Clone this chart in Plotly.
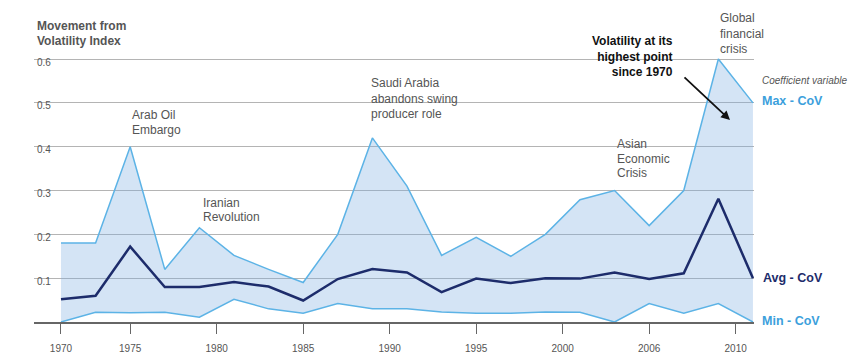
import plotly.graph_objects as go

# ---------------- data ----------------
years = [1970, 1972, 1974, 1976, 1978, 1980, 1982, 1984, 1986, 1988, 1990,
         1992, 1994, 1996, 1998, 2000, 2002, 2004, 2006, 2008, 2010]
max_cov = [0.18, 0.18, 0.40, 0.12, 0.215, 0.152, 0.12, 0.09, 0.20, 0.42, 0.31,
           0.152, 0.193, 0.15, 0.20, 0.279, 0.30, 0.22, 0.30, 0.60, 0.50]
avg_cov = [0.052, 0.06, 0.172, 0.08, 0.08, 0.091, 0.081, 0.049, 0.098, 0.121, 0.113,
           0.068, 0.099, 0.089, 0.10, 0.099, 0.113, 0.098, 0.111, 0.281, 0.10]
min_cov = [0.0, 0.022, 0.021, 0.022, 0.011, 0.052, 0.03, 0.02, 0.042, 0.03, 0.03,
           0.023, 0.02, 0.02, 0.023, 0.022, 0.0, 0.042, 0.02, 0.042, 0.0]

x_tickvals = [1970, 1974, 1979, 1984, 1989, 1994, 1999, 2004, 2009]
x_ticktext = ["1970", "1975", "1980", "1985", "1990", "1995", "2000", "2006", "2010"]
y_tickvals = [0.1, 0.2, 0.3, 0.4, 0.5, 0.6]
y_ticktext = ["0.1", "0.2", "0.3", "0.4", "0.5", "0.6"]

# ---------------- style ----------------
FONT = "Liberation Sans, Arial, Helvetica, sans-serif"
GRAY = "#555555"
LIGHT = "#5cb3e6"
LIGHT_TXT = "#3c9fdc"
NAVY = "#1d2c6b"
FILL = "rgba(120,170,225,0.32)"

OFF = 8  # page body margin offset
W, H = 857 - OFF, 362 - OFF
L, R, T, B = 34 - OFF, 103, 50 - OFF, 40
PW, PH = W - L - R, H - T - B


def px(xp):
    return (xp - OFF - L) / PW


def py(yp):
    return (H - B - (yp - OFF)) / PH


fig = go.Figure()
fig.add_trace(go.Scatter(x=years, y=min_cov, mode="lines",
                         line=dict(color=LIGHT, width=1.5), hoverinfo="skip",
                         showlegend=False))
fig.add_trace(go.Scatter(x=years, y=max_cov, mode="lines", fill="tonexty",
                         fillcolor=FILL, line=dict(color=LIGHT, width=1.5),
                         hoverinfo="skip", showlegend=False))
fig.add_trace(go.Scatter(x=years, y=avg_cov, mode="lines",
                         line=dict(color=NAVY, width=2.5), hoverinfo="skip",
                         showlegend=False))

annots = []


def txt(text, xp, yp, size=12, color=GRAY, bold=False, italic=False,
        xanchor="left", align="left"):
    t = text
    if bold:
        t = "<b>" + t + "</b>"
    if italic:
        t = "<i>" + t + "</i>"
    annots.append(dict(text=t, xref="paper", yref="paper", x=px(xp), y=py(yp),
                       xanchor=xanchor, yanchor="middle", showarrow=False,
                       align=align,
                       font=dict(family=FONT, size=size, color=color)))


# title
txt("Movement from", 35, 26, size=12, bold=True)
txt("Volatility Index", 35, 41, size=12, bold=True)

# events
txt("Arab Oil", 130, 115)
txt("Embargo", 130, 130)
txt("Iranian", 201, 203)
txt("Revolution", 201, 217)
txt("Saudi Arabia", 369, 83)
txt("abandons swing", 369, 99)
txt("producer role", 369, 114)
txt("Asian", 615, 144)
txt("Economic", 615, 159)
txt("Crisis", 615, 173)
txt("Global<br>financial<br>crisis", 718, 33)

txt("Volatility at its<br>highest point<br>since 1970", 675, 56, size=12,
    color="#111111", bold=True, xanchor="right", align="right")

# arrow
annots.append(dict(text="", xref="paper", yref="paper", x=px(730), y=py(120),
                   ax=683 - 730, ay=76 - 120, axref="pixel", ayref="pixel",
                   showarrow=True, arrowhead=2, arrowsize=1, arrowwidth=1.8,
                   arrowcolor="#111111"))

# right labels
txt("Coefficient variable", 760, 80, size=10, italic=True)
txt("Max - CoV", 760, 101, size=12.5, color=LIGHT_TXT, bold=True)
txt("Avg - CoV", 761, 278, size=12.5, color=NAVY, bold=True)
txt("Min - CoV", 760, 321, size=12.5, color=LIGHT_TXT, bold=True)

# white breaks in gridlines behind labels
shapes = []
for x0, x1, yc in [(360, 468, 103), (610, 652, 146.7), (580, 683, 59.3)]:
    shapes.append(dict(type="rect", xref="paper", yref="paper",
                       x0=px(x0), x1=px(x1), y0=py(yc + 3), y1=py(yc - 3),
                       fillcolor="white", line=dict(width=0), layer="between"))

fig.update_layout(
    width=W, height=H,
    margin=dict(l=L, r=R, t=T, b=B, autoexpand=False),
    paper_bgcolor="white", plot_bgcolor="white",
    font=dict(family=FONT, color=GRAY),
    annotations=annots, shapes=shapes,
    xaxis=dict(range=[1968.44, 2010.06], tickvals=x_tickvals, ticktext=x_ticktext,
               showgrid=False, zeroline=False, showline=True, linecolor="#666666",
               linewidth=1.5, ticks="outside", ticklen=10, tickwidth=1,
               tickcolor="#666666", tickfont=dict(size=10, color=GRAY),
               ticklabelstandoff=6, fixedrange=True),
    yaxis=dict(range=[0, PH / 438.3], tickvals=y_tickvals, ticktext=y_ticktext,
               showgrid=True, gridcolor="#b4b4b4", gridwidth=1, zeroline=False,
               showline=False, ticks="", ticklabelposition="inside bottom",
               ticklabelshift=-4,
               tickfont=dict(size=10, color=GRAY), fixedrange=True),
)

fig.write_html("out.html")
